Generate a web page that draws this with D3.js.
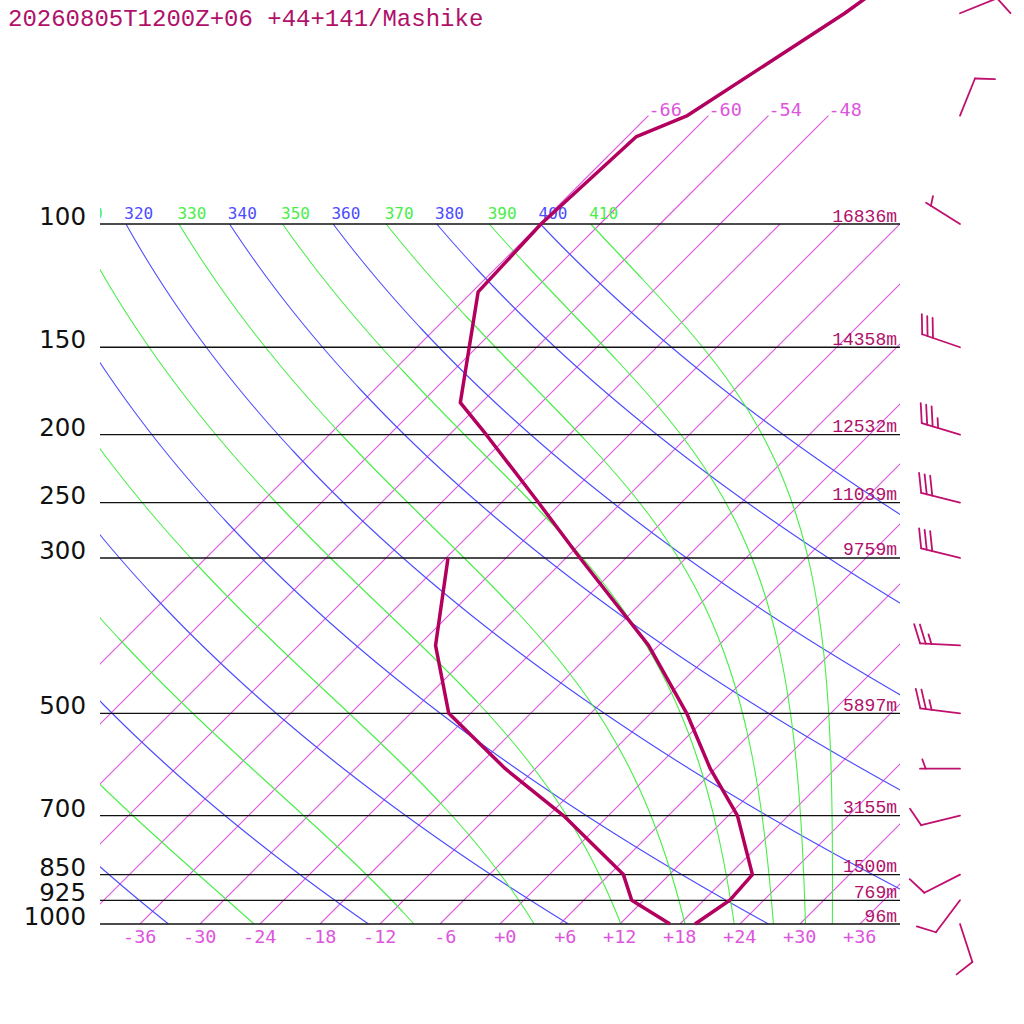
<!DOCTYPE html>
<html>
<head>
<meta charset="utf-8">
<script src="https://cdn.jsdelivr.net/npm/d3@7"></script>
<style>
  body { margin: 0; background: #fff; }
  svg { display: block; }
</style>
</head>
<body>
<div id="vis"></div>
<script>
// sounding data
const P_LEVELS = [1000, 925, 850, 700, 600, 500, 400, 300, 250, 200, 180, 125, 100, 75, 70, 50, 40];
const TEMP     = [19.5, 20.6, 20.3, 12.9, 5.5, -2.4, -13.0, -28.6, -38.3, -50.3, -56.1, -65.4, -65.9, -65.1, -62.1, -56.6, -54.0];
const DEW_P    = [1000, 925, 850, 700, 600, 500, 400, 300];
const DEWPT    = [17.0, 10.8, 7.4, -4.5, -15.0, -26.2, -34.3, -41.8];

const ISOBARS = [100, 150, 200, 250, 300, 500, 700, 850, 925, 1000];
const HEIGHTS = ["16836m", "14358m", "12532m", "11039m", "9759m", "5897m", "3155m", "1500m", "769m", "96m"];

const WIND_P   = [50, 70, 100, 150, 200, 250, 300, 400, 500, 600, 700, 850, 925, 1000];
const WIND_DIR = [68, 22, 302, 289, 287, 284, 284, 273, 277, 270, 256, 243, 217, 162];
const WIND_KT  = [10, 10, 5, 30, 35, 30, 30, 25, 25, 5, 10, 10, 10, 10];

const THETA   = [240, 260, 280, 300, 320, 340, 360, 380, 400];
const THETA_E = [250, 270, 290, 310, 330, 350, 370, 390, 410];
const ISOTHERMS = [-66, -60, -54, -48, -42, -36, -30, -24, -18, -12, -6, 0, 6, 12, 18, 24, 30, 36];
const UPPER_ISOTHERMS = [-66, -60, -54, -48];
const T_TICKS = [-36, -30, -24, -18, -12, -6, 0, 6, 12, 18, 24, 30, 36];

const TITLE = "20260805T1200Z+06 +44+141/Mashike";

// layout
const WIDTH = 1024, HEIGHT = 1024;
const PLOT = {left: 100, right: 900, top: 224, bottom: 924};
const C_BLUE = "#4b4bff", C_GREEN = "#48ee48", C_ISO = "#dd55dd", C_DARK = "#b3005e", C_TEXT = "#b0106a";

const Y_SCALE = d3.scaleLog().domain([1000, 100]).range([PLOT.bottom, PLOT.top]);
const X_SCALE = d3.scaleLinear().domain([-40, 40]).range([PLOT.left, PLOT.right]);

// skewed x position of temperature t (C) at pressure p (hPa)
function skewX(t, p) {
    return X_SCALE(t) + (Y_SCALE(1000) - Y_SCALE(p));
}

// saturated equivalent potential temperature (Bolton)
function thetaE(tk, p) {
    const tc = tk - 273.15;
    const es = 6.112 * Math.exp(17.67 * tc / (tc + 243.5));
    if (es > 0.5 * p) return 1e9;
    const r = 0.622 * es / (p - es);
    return tk * Math.pow(1000 / p, 0.2854 * (1 - 0.28 * r)) * Math.exp((3376 / tk - 2.54) * r * (1 + 0.81 * r));
}
function moistT(te, p) {
    let lo = 120, hi = 340;
    for (let i = 0; i < 60; i++) {
        const mid = (lo + hi) / 2;
        if (thetaE(mid, p) > te) hi = mid; else lo = mid;
    }
    return (lo + hi) / 2 - 273.15;
}

const PRESS_STEPS = d3.range(0, 201).map(i => 1000 * Math.pow(0.1, i / 200));

const svg = d3.select("#vis").append("svg")
    .attr("width", WIDTH).attr("height", HEIGHT);

svg.append("defs").append("clipPath").attr("id", "plotclip")
    .append("rect").attr("x", PLOT.left).attr("y", PLOT.top)
    .attr("width", PLOT.right - PLOT.left).attr("height", PLOT.bottom - PLOT.top);
svg.select("defs").append("clipPath").attr("id", "labelclip")
    .append("rect").attr("x", PLOT.left).attr("y", 0)
    .attr("width", PLOT.right - PLOT.left).attr("height", PLOT.top);

const plot = svg.append("g").attr("clip-path", "url(#plotclip)");
const line = d3.line().x(d => d[0]).y(d => d[1]);

// isotherms
plot.selectAll(".iso").data(ISOTHERMS).enter().append("line")
    .attr("x1", d => skewX(d, 1000)).attr("y1", Y_SCALE(1000))
    .attr("x2", d => skewX(d, 100)).attr("y2", Y_SCALE(100))
    .attr("stroke", C_ISO).attr("stroke-width", 1.1);

svg.selectAll(".isoup").data(UPPER_ISOTHERMS).enter().append("line")
    .attr("x1", d => skewX(d, 100)).attr("y1", Y_SCALE(100))
    .attr("x2", d => skewX(d, 70)).attr("y2", Y_SCALE(70))
    .attr("stroke", C_ISO).attr("stroke-width", 1.1);

svg.selectAll(".isouplab").data(UPPER_ISOTHERMS).enter().append("text")
    .attr("x", d => skewX(d, 70)).attr("y", Y_SCALE(70) + 0.5)
    .attr("font-family", "DejaVu Sans Mono").attr("font-size", 18.5)
    .attr("fill", C_ISO).text(d => (d > 0 ? "+" : "") + d);

// dry adiabats
plot.selectAll(".theta").data(THETA).enter().append("path")
    .attr("d", th => line(PRESS_STEPS.map(p => [skewX(th * Math.pow(p / 1000, 0.2857) - 273.15, p), Y_SCALE(p)])))
    .attr("fill", "none").attr("stroke", C_BLUE).attr("stroke-width", 1.1);

// moist adiabats
plot.selectAll(".thetae").data(THETA_E).enter().append("path")
    .attr("d", te => line(PRESS_STEPS.map(p => [skewX(moistT(te, p), p), Y_SCALE(p)])))
    .attr("fill", "none").attr("stroke", C_GREEN).attr("stroke-width", 1.1);

// adiabat labels above 100 hPa (only those reaching into the plot width)
const labG = svg.append("g").attr("clip-path", "url(#labelclip)");
const thLabels = THETA.map(v => ({v: v, x: skewX(v * 0.5179 - 273.15, 100), c: C_BLUE}))
    .concat(THETA_E.map(v => ({v: v, x: skewX(moistT(v, 100), 100), c: C_GREEN})))
    .filter(d => d.x + 28 > PLOT.left);
labG.selectAll("text").data(thLabels).enter().append("text")
    .attr("x", d => d.x - 1.5).attr("y", PLOT.top - 5)
    .attr("font-family", "DejaVu Sans Mono").attr("font-size", 16)
    .attr("fill", d => d.c).text(d => d.v);

// isobars
svg.selectAll(".isobar").data(ISOBARS).enter().append("line")
    .attr("x1", PLOT.left).attr("x2", PLOT.right)
    .attr("y1", d => Y_SCALE(d)).attr("y2", d => Y_SCALE(d))
    .attr("stroke", "#111").attr("stroke-width", 1.3);

svg.selectAll(".plab").data(ISOBARS).enter().append("text")
    .attr("x", 86).attr("y", d => Y_SCALE(d) + 1)
    .attr("text-anchor", "end").attr("font-family", "DejaVu Sans").attr("font-size", 24.5)
    .attr("fill", "#111").text(d => d);

svg.selectAll(".hlab").data(ISOBARS).enter().append("text")
    .attr("x", 897).attr("y", d => Y_SCALE(d) - 2.5)
    .attr("text-anchor", "end").attr("font-family", "Liberation Mono").attr("font-size", 18)
    .attr("fill", C_TEXT).text((d, i) => HEIGHTS[i]);

// temperature ticks
svg.selectAll(".tlab").data(T_TICKS).enter().append("text")
    .attr("x", d => X_SCALE(d) + 16.5).attr("y", PLOT.bottom + 19)
    .attr("text-anchor", "end").attr("font-family", "DejaVu Sans Mono").attr("font-size", 18.5)
    .attr("fill", C_ISO).text(d => (d >= 0 ? "+" : "") + d);

// sounding lines
const tempPts = P_LEVELS.map((p, i) => [skewX(TEMP[i], p), Y_SCALE(p)]);
const dewPts = DEW_P.map((p, i) => [skewX(DEWPT[i], p), Y_SCALE(p)]);
[tempPts, dewPts].forEach(pts => {
    svg.append("path").attr("d", line(pts))
        .attr("fill", "none").attr("stroke", C_DARK).attr("stroke-width", 3.5)
        .attr("stroke-linejoin", "round");
});

// wind barbs
const BARB_X = 960, STAFF = 40, FULL = 20, SPACE = 5.7, TILT = 70 * Math.PI / 180;
const barbG = svg.append("g").attr("stroke", "#c0106e").attr("stroke-width", 1.8)
    .attr("stroke-linecap", "round").attr("fill", "none");
WIND_P.forEach((p, i) => {
    const dir = WIND_DIR[i] * Math.PI / 180;
    const bx = BARB_X, by = Y_SCALE(p);
    const ux = Math.sin(dir), uy = -Math.cos(dir);
    const tx = bx + STAFF * ux, ty = by + STAFF * uy;
    barbG.append("line").attr("x1", bx).attr("y1", by).attr("x2", tx).attr("y2", ty);
    const ang = Math.atan2(uy, ux) + TILT;
    const spd = WIND_KT[i];
    const full = Math.floor(spd / 10), half = (spd % 10) >= 5 ? 1 : 0;
    let pos = (full === 0 && half) ? 1 : 0;
    const barbs = d3.range(full).map(() => FULL).concat(half ? [FULL / 2] : []);
    barbs.forEach(len => {
        const sx = tx - ux * SPACE * pos, sy = ty - uy * SPACE * pos;
        barbG.append("line").attr("x1", sx).attr("y1", sy)
            .attr("x2", sx + len * Math.cos(ang)).attr("y2", sy + len * Math.sin(ang));
        pos++;
    });
});

// title
svg.append("text").attr("x", 8).attr("y", 26)
    .attr("font-family", "Liberation Mono").attr("font-size", 24)
    .attr("fill", C_TEXT).text(TITLE);
</script>
</body>
</html>
